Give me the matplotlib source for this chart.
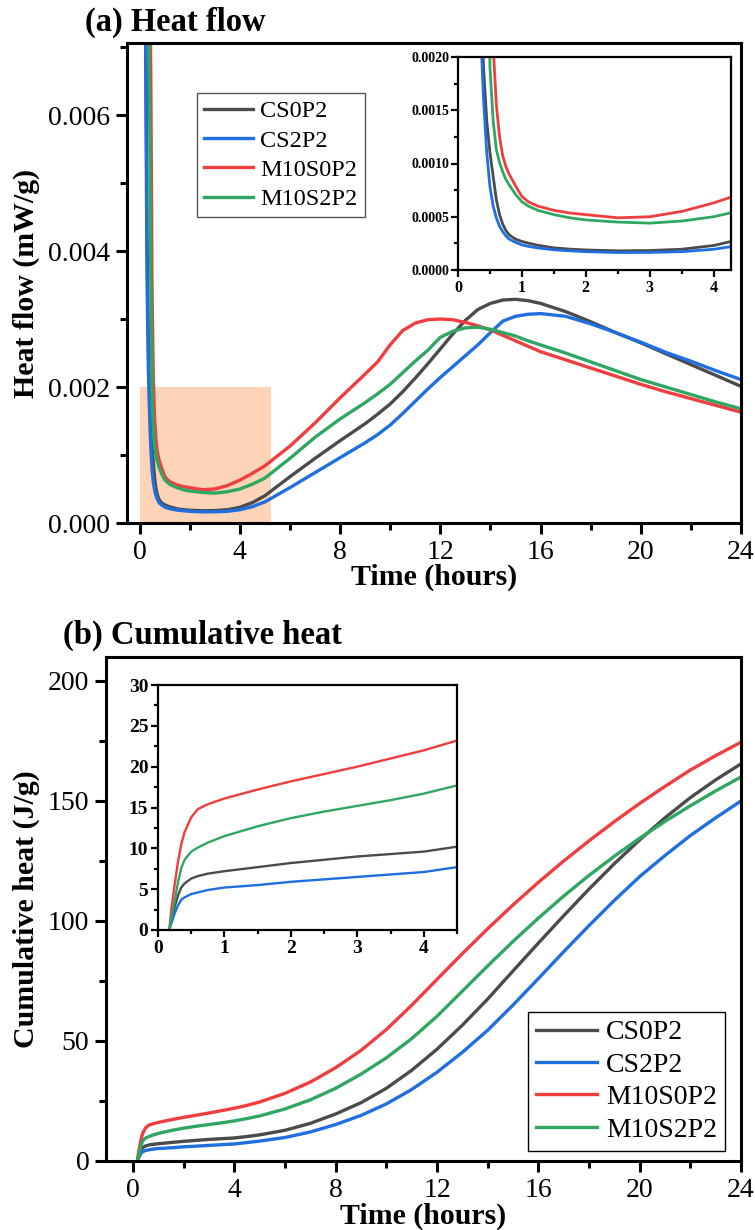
"""
Heat flow and cumulative heat curves, 24 h calorimetry
"""
import numpy as np
import matplotlib
matplotlib.use('Agg')
import matplotlib.pyplot as plt
from matplotlib.ticker import AutoMinorLocator, FormatStrFormatter
from matplotlib.patches import Rectangle

plt.rcParams['font.family'] = ['Liberation Serif', 'DejaVu Serif']

## DATA
mixes = ['CS0P2', 'CS2P2', 'M10S0P2', 'M10S2P2']
colors = ['#4B4B4B', '#1F6FE0', '#F03D3D', '#2FA662']

# heat flow (mW/g) vs time (h)
t_hf = [0.15, 0.2, 0.25, 0.3, 0.35, 0.4, 0.45, 0.5, 0.55, 0.6, 0.65, 0.7, 0.75, 0.8,
        0.9, 1.0, 1.1, 1.25, 1.5, 1.75, 2.0, 2.5, 3.0, 3.5, 4.0, 4.5, 5.0,
        6.0, 7.0, 8.0, 9.0, 9.5, 10.0, 10.5, 11.0, 11.5, 12.0, 12.5, 13.0, 13.5,
        14.0, 14.5, 15.0, 15.5, 16.0, 17.0, 18.0, 19.0, 20.0, 21.0, 22.0, 23.0, 24.0]
hf_cs0p2 = [0.05, 0.014, 0.0075, 0.0042, 0.0027, 0.0019, 0.0014, 0.0011, 0.00088, 0.00066,
            0.00052, 0.00043, 0.00037, 0.00033,
            0.00029, 0.000268, 0.000252, 0.000232, 0.000208, 0.000196, 0.000188,
            0.00018, 0.000183, 0.000195, 0.00023, 0.0003, 0.0004,
            0.00068, 0.00095, 0.00121, 0.00146, 0.0016, 0.00175, 0.00193, 0.00213, 0.00234,
            0.00256, 0.00278, 0.00298, 0.00314, 0.00323, 0.00328, 0.00329, 0.00327, 0.00323,
            0.00311, 0.00296, 0.0028, 0.00265, 0.00249, 0.00233, 0.00217, 0.00201]
hf_cs2p2 = [0.04, 0.012, 0.0065, 0.0036, 0.0023, 0.0016, 0.0011, 0.00078, 0.0006, 0.00049,
            0.00041, 0.00036, 0.00032, 0.00029,
            0.00026, 0.000236, 0.000222, 0.000207, 0.00019, 0.00018, 0.000172,
            0.000164, 0.000165, 0.000172, 0.000195, 0.00024, 0.00031,
            0.00052, 0.00074, 0.00096, 0.00118, 0.0013, 0.00144, 0.00161, 0.00179, 0.00197,
            0.00214, 0.0023, 0.00246, 0.00262, 0.0028, 0.00297, 0.00304, 0.00307, 0.00308,
            0.00304, 0.00293, 0.0028, 0.00266, 0.00251, 0.00238, 0.00224, 0.00211]
hf_m10s0p2 = [0.08, 0.04, 0.025, 0.017, 0.012, 0.0088, 0.0065, 0.0034, 0.0021, 0.00155,
              0.00125, 0.00107, 0.00097, 0.0009,
              0.00079, 0.00069, 0.00064, 0.0006, 0.00056, 0.000535, 0.00052,
              0.00049, 0.0005, 0.00055, 0.00063, 0.00073, 0.00084,
              0.00113, 0.00147, 0.00184, 0.00219, 0.00237, 0.00262, 0.00283, 0.00294, 0.00299,
              0.003, 0.00299, 0.00295, 0.0029, 0.00284, 0.00276, 0.00268, 0.0026, 0.00252,
              0.0024, 0.00228, 0.00216, 0.00204, 0.00193, 0.00183, 0.00173, 0.00163]
hf_m10s2p2 = [0.06, 0.03, 0.018, 0.012, 0.0085, 0.0062, 0.0036, 0.0019, 0.0014, 0.00113,
              0.00101, 0.00092, 0.00085, 0.0008,
              0.00071, 0.00064, 0.0006, 0.00056, 0.00052, 0.00049, 0.00047,
              0.00045, 0.00044, 0.00046, 0.0005, 0.00057, 0.00066,
              0.00095, 0.00126, 0.00153, 0.00177, 0.0019, 0.00204, 0.00221, 0.00238, 0.00254,
              0.00273, 0.00282, 0.00287, 0.00288, 0.00285, 0.0028, 0.00275, 0.00268, 0.00262,
              0.0025, 0.00237, 0.00224, 0.00211, 0.002, 0.00189, 0.00178, 0.00168]

# cumulative heat (J/g) vs time (h)
t_ch = [0.17, 0.2, 0.25, 0.3, 0.35, 0.4, 0.5, 0.6, 0.75, 1.0, 1.5, 2.0, 2.5, 3.0, 3.5,
        4.0, 4.5, 5.0, 6.0, 7.0, 8.0, 9.0, 10.0, 11.0, 12.0, 13.0, 14.0, 15.0, 16.0,
        17.0, 18.0, 19.0, 20.0, 21.0, 22.0, 23.0, 24.0]
ch_cs0p2 = [0, 1.2, 2.8, 4.2, 5.2, 5.7, 6.3, 6.6, 6.9, 7.2, 7.7, 8.2, 8.6, 9.0, 9.3,
            9.6, 10.2, 10.9, 12.8, 15.7, 19.6, 24.3, 30.3, 37.8, 46.6, 56.6, 67.5, 79.2,
            90.8, 102.2, 113.3, 123.9, 133.8, 143.0, 151.4, 158.8, 165.5]
ch_cs2p2 = [0, 0.8, 2.0, 3.0, 3.7, 4.0, 4.4, 4.6, 4.9, 5.2, 5.5, 5.9, 6.2, 6.5, 6.8,
            7.1, 7.7, 8.3, 9.8, 12.1, 15.2, 19.0, 23.8, 29.8, 37.0, 45.3, 54.5, 65.0,
            76.0, 87.2, 98.1, 108.6, 118.5, 127.3, 135.6, 143.0, 150.0]
ch_m10s0p2 = [0, 2.5, 5.5, 8.3, 10.5, 12.0, 13.8, 14.8, 15.4, 16.1, 17.2, 18.2, 19.1, 20.0,
              21.0, 22.0, 23.2, 24.6, 28.2, 32.9, 38.9, 46.1, 54.8, 64.9, 75.7, 86.4, 96.8,
              106.7, 116.1, 125.0, 133.4, 141.4, 149.0, 156.1, 162.9, 168.9, 174.5]
ch_m10s2p2 = [0, 1.5, 3.5, 5.8, 7.6, 8.6, 9.6, 10.1, 10.7, 11.5, 12.7, 13.7, 14.5, 15.2,
              15.9, 16.7, 17.7, 18.8, 21.7, 25.5, 30.3, 36.2, 43.0, 51.0, 60.3, 70.8, 81.3,
              91.5, 101.2, 110.4, 119.0, 127.0, 134.5, 141.5, 148.0, 154.2, 160.0]

heat_flow = [hf_cs0p2, hf_cs2p2, hf_m10s0p2, hf_m10s2p2]
cum_heat = [ch_cs0p2, ch_cs2p2, ch_m10s0p2, ch_m10s2p2]

# shaded region that the heat flow inset zooms into
zoom_t = (0.0, 5.25)
zoom_hf = (0.0, 0.002)


def style_axes(ax, size, bold=False, spine=2.2, major=8, minor=5):
    for s in ax.spines.values():
        s.set_linewidth(spine)
    ax.xaxis.set_minor_locator(AutoMinorLocator(2))
    ax.yaxis.set_minor_locator(AutoMinorLocator(2))
    ax.tick_params(which='both', direction='out', top=False, right=False,
                   width=spine, labelsize=size, pad=4)
    ax.tick_params(which='major', length=major)
    ax.tick_params(which='minor', length=minor)
    if bold:
        for lab in ax.get_xticklabels() + ax.get_yticklabels():
            lab.set_fontweight('bold')


W, H = 755, 1230
fig = plt.figure(figsize=(W / 100, H / 100), dpi=100)

## (a) HEAT FLOW
ax1 = fig.add_axes([127 / W, 1 - 523 / H, 614 / W, 480 / H])
ax1.add_patch(Rectangle((zoom_t[0], zoom_hf[0]), zoom_t[1] - zoom_t[0], zoom_hf[1] - zoom_hf[0],
                        facecolor='#FDD4B8', edgecolor='none', zorder=0))
for name, y, c in zip(mixes, heat_flow, colors):
    ax1.plot(t_hf, y, color=c, lw=2.4, label=name)
ax1.set_xlim(-0.5, 24)
ax1.set_ylim(0, 0.00706)
ax1.set_xticks(np.arange(0, 25, 4))
ax1.set_yticks([0, 0.002, 0.004, 0.006])
ax1.yaxis.set_major_formatter(FormatStrFormatter('%.3f'))
style_axes(ax1, 20)
ax1.set_xlabel('Time (hours)', fontsize=21.5, fontweight='bold')
ax1.set_ylabel('Heat flow (mW/g)', fontsize=21.5, fontweight='bold')
ax1.xaxis.set_label_coords(0.5, -0.085)
ax1.yaxis.set_label_coords(-0.142, 0.5)
leg1 = ax1.legend(loc='upper left', bbox_to_anchor=(0.114, 0.896), borderaxespad=0,
                  fontsize=17.5, handlelength=2.0, handletextpad=0.3, labelspacing=0.3,
                  borderpad=0.3, fancybox=False, framealpha=1, edgecolor='#555555')
leg1.get_frame().set_linewidth(1.0)
fig.text(85 / W, 1 - 22 / H, '(a) Heat flow', fontsize=23.5, fontweight='bold',
         ha='left', va='center')

# inset: first hours of heat flow
ins1 = fig.add_axes([458 / W, 1 - 270 / H, 273 / W, 213 / H])
for y, c in zip(heat_flow, colors):
    ins1.plot(t_hf, y, color=c, lw=2.0)
ins1.set_xlim(0, 4.27)
ins1.set_ylim(0, 0.002)
ins1.set_xticks([0, 1, 2, 3, 4])
ins1.set_yticks([0, 0.0005, 0.001, 0.0015, 0.002])
ins1.yaxis.set_major_formatter(FormatStrFormatter('%.4f'))
style_axes(ins1, 10, bold=True, spine=1.6, major=5, minor=3)
ins1.tick_params(axis='x', labelsize=11.5, pad=2)
ins1.tick_params(axis='y', pad=1)

## (b) CUMULATIVE HEAT
ax2 = fig.add_axes([106 / W, 1 - 1161 / H, 635 / W, 504 / H])
for name, y, c in zip(mixes, cum_heat, colors):
    ax2.plot(t_ch, y, color=c, lw=2.4, label=name)
ax2.set_xlim(-1.07, 24)
ax2.set_ylim(0, 210)
ax2.set_xticks(np.arange(0, 25, 4))
ax2.set_yticks(np.arange(0, 201, 50))
style_axes(ax2, 20)
ax2.set_xlabel('Time (hours)', fontsize=21.5, fontweight='bold')
ax2.set_ylabel('Cumulative heat (J/g)', fontsize=21.5, fontweight='bold')
ax2.xaxis.set_label_coords(0.5, -0.083)
ax2.yaxis.set_label_coords(-0.104, 0.5)
leg2 = ax2.legend(loc='lower right', bbox_to_anchor=(0.975, 0.02), borderaxespad=0,
                  fontsize=20, handlelength=2.2, handletextpad=0.3, labelspacing=0.25,
                  borderpad=0.3, fancybox=False, framealpha=1, edgecolor='black')
leg2.get_frame().set_linewidth(1.0)
fig.text(63 / W, 1 - 635 / H, '(b) Cumulative heat', fontsize=23.5, fontweight='bold',
         ha='left', va='center')

# inset: first hours of cumulative heat
ins2 = fig.add_axes([158 / W, 1 - 930 / H, 299 / W, 245 / H])
for y, c in zip(cum_heat, colors):
    ins2.plot(t_ch, y, color=c, lw=1.7)
ins2.set_xlim(0, 4.5)
ins2.set_ylim(0, 30)
ins2.set_xticks([0, 1, 2, 3, 4])
ins2.set_yticks(np.arange(0, 31, 5))
style_axes(ins2, 14, bold=True, spine=1.6, major=5, minor=3)
ins2.tick_params(pad=2)

fig.savefig('out.png', dpi=100)
